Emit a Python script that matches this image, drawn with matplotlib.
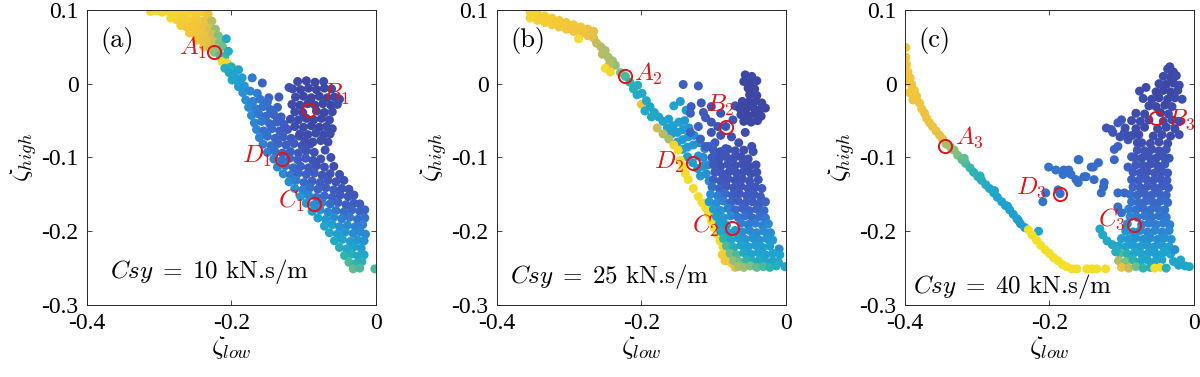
import matplotlib
matplotlib.use("Agg")
import matplotlib.pyplot as plt
from matplotlib.colors import LinearSegmentedColormap

plt.rcParams["mathtext.fontset"] = "cm"
plt.rcParams["font.family"] = "Liberation Serif"

# parula-like colour ramp, slightly muted to match the printed figure
parula = LinearSegmentedColormap.from_list(
    "parula", ["#3c3c96", "#3f5bc0", "#2f80d4", "#1ea2d0", "#2bb5b0",
               "#80c080", "#c8bc5c", "#f4c53a", "#f2ea22"])

# ---- data: (zeta_low, zeta_high, colour value) ----
# panel (a), Csy = 10
a_upper = [
    (-0.312, 0.098, .95), (-0.304, 0.099, .95), (-0.296, 0.097, .94), (-0.288, 0.099, .94),
    (-0.280, 0.096, .93), (-0.272, 0.098, .93), (-0.264, 0.095, .92), (-0.256, 0.098, .92),
    (-0.248, 0.095, .90), (-0.240, 0.097, .90), (-0.232, 0.094, .86),
    (-0.284, 0.089, .93), (-0.276, 0.087, .92), (-0.268, 0.088, .91), (-0.260, 0.086, .90),
    (-0.252, 0.087, .89), (-0.244, 0.085, .88), (-0.236, 0.086, .84), (-0.227, 0.085, .72),
    (-0.270, 0.079, .90), (-0.262, 0.077, .89), (-0.254, 0.078, .88), (-0.246, 0.076, .87),
    (-0.238, 0.077, .85), (-0.230, 0.075, .80), (-0.222, 0.074, .66),
    (-0.258, 0.069, .88), (-0.250, 0.067, .87), (-0.242, 0.068, .86), (-0.234, 0.066, .84),
    (-0.226, 0.067, .78), (-0.218, 0.065, .62),
    (-0.248, 0.059, .86), (-0.240, 0.058, .85), (-0.232, 0.059, .83), (-0.224, 0.057, .78),
    (-0.216, 0.056, .62), (-0.207, 0.061, .42),
    (-0.238, 0.050, .84), (-0.230, 0.049, .80), (-0.219, 0.048, .72), (-0.212, 0.050, .60),
    (-0.224, 0.043, .66), (-0.216, 0.039, .58), (-0.209, 0.037, .52), (-0.204, 0.044, .45),
    (-0.213, 0.030, .95), (-0.206, 0.028, .93), (-0.200, 0.023, .48), (-0.209, 0.021, .45),
    (-0.203, 0.015, .40), (-0.196, 0.013, .38), (-0.190, 0.019, .38), (-0.199, 0.005, .40),
    (-0.192, 0.004, .38), (-0.185, 0.008, .35), (-0.190, -0.004, .36), (-0.182, -0.003, .33),
]
a_band = [
    (-0.171, 0.008, .22), (-0.157, 0.001, .15), (-0.148, -0.019, .15), (-0.134, -0.018, .12),
    (-0.120, -0.005, .10),
    (-0.184, -0.012, .32), (-0.174, -0.010, .28), (-0.164, -0.013, .25),
    (-0.180, -0.022, .30), (-0.170, -0.024, .25), (-0.160, -0.021, .22), (-0.150, -0.025, .20),
    (-0.176, -0.032, .30), (-0.166, -0.034, .24), (-0.156, -0.031, .20), (-0.146, -0.035, .18),
    (-0.136, -0.032, .15),
    (-0.172, -0.043, .28), (-0.162, -0.041, .22), (-0.152, -0.044, .18), (-0.141, -0.042, .16),
    (-0.131, -0.045, .14),
    (-0.168, -0.053, .28), (-0.158, -0.051, .22), (-0.147, -0.054, .18), (-0.137, -0.052, .15),
    (-0.127, -0.055, .13),
    (-0.165, -0.062, .27), (-0.155, -0.064, .20), (-0.144, -0.061, .17), (-0.133, -0.064, .14),
    (-0.122, -0.062, .12),
    (-0.161, -0.073, .26), (-0.150, -0.071, .20), (-0.139, -0.074, .16), (-0.128, -0.072, .14),
    (-0.117, -0.074, .12), (-0.106, -0.071, .10),
    (-0.156, -0.082, .25), (-0.145, -0.084, .20), (-0.135, -0.081, .16), (-0.124, -0.083, .14),
    (-0.113, -0.081, .12), (-0.102, -0.084, .10), (-0.091, -0.082, .09),
    (-0.150, -0.093, .25), (-0.140, -0.091, .20), (-0.129, -0.094, .16), (-0.118, -0.092, .14),
    (-0.107, -0.094, .12), (-0.096, -0.091, .10), (-0.085, -0.093, .09), (-0.070, -0.090, .08),
    (-0.141, -0.102, .26), (-0.130, -0.104, .20), (-0.119, -0.101, .16), (-0.108, -0.103, .14),
    (-0.097, -0.101, .12), (-0.087, -0.104, .10), (-0.076, -0.102, .09), (-0.062, -0.100, .08),
    (-0.136, -0.113, .28), (-0.125, -0.111, .22), (-0.114, -0.114, .17), (-0.104, -0.112, .14),
    (-0.093, -0.114, .12), (-0.082, -0.111, .10), (-0.071, -0.113, .09), (-0.058, -0.112, .08),
    (-0.128, -0.122, .28), (-0.118, -0.124, .22), (-0.107, -0.121, .17), (-0.096, -0.123, .15),
    (-0.085, -0.121, .13), (-0.074, -0.124, .11), (-0.063, -0.122, .10), (-0.050, -0.123, .09),
    (-0.120, -0.133, .30), (-0.110, -0.131, .24), (-0.099, -0.134, .18), (-0.088, -0.132, .15),
    (-0.077, -0.134, .13), (-0.066, -0.131, .11), (-0.055, -0.133, .10), (-0.044, -0.131, .09),
    (-0.112, -0.142, .32), (-0.101, -0.144, .25), (-0.091, -0.141, .20), (-0.080, -0.143, .16),
    (-0.069, -0.141, .13), (-0.058, -0.144, .12), (-0.047, -0.142, .10), (-0.037, -0.143, .10),
    (-0.104, -0.153, .34), (-0.093, -0.151, .27), (-0.082, -0.154, .21), (-0.071, -0.152, .17),
    (-0.060, -0.154, .14), (-0.049, -0.151, .12), (-0.038, -0.153, .11), (-0.030, -0.151, .11),
    (-0.096, -0.162, .35), (-0.085, -0.164, .30), (-0.074, -0.161, .24), (-0.063, -0.163, .19),
    (-0.052, -0.161, .16), (-0.041, -0.164, .14), (-0.030, -0.162, .13), (-0.022, -0.163, .13),
    (-0.088, -0.173, .36), (-0.077, -0.171, .32), (-0.066, -0.174, .27), (-0.055, -0.172, .22),
    (-0.044, -0.174, .19), (-0.033, -0.171, .17), (-0.022, -0.173, .16), (-0.015, -0.171, .16),
    (-0.080, -0.182, .37), (-0.069, -0.184, .34), (-0.058, -0.181, .30), (-0.047, -0.183, .25),
    (-0.036, -0.181, .22), (-0.025, -0.184, .20), (-0.015, -0.182, .20),
    (-0.071, -0.193, .38), (-0.060, -0.191, .36), (-0.050, -0.194, .32), (-0.039, -0.192, .28),
    (-0.028, -0.194, .25), (-0.018, -0.191, .24),
    (-0.064, -0.202, .40), (-0.053, -0.204, .37), (-0.042, -0.201, .34), (-0.031, -0.203, .30),
    (-0.021, -0.201, .28), (-0.014, -0.204, .28),
    (-0.057, -0.213, .42), (-0.046, -0.211, .39), (-0.035, -0.214, .36), (-0.025, -0.212, .33),
    (-0.016, -0.213, .32),
    (-0.050, -0.222, .45), (-0.040, -0.224, .42), (-0.030, -0.221, .38), (-0.020, -0.223, .36),
    (-0.043, -0.233, .50), (-0.033, -0.231, .46), (-0.024, -0.234, .42), (-0.016, -0.232, .40),
    (-0.037, -0.242, .55), (-0.028, -0.244, .50), (-0.019, -0.241, .45),
    (-0.031, -0.251, .58), (-0.022, -0.250, .55), (-0.001, -0.251, .55),
]
a_cluster = [
    (-0.108, 0.003, .06), (-0.096, 0.004, .05), (-0.084, 0.002, .05), (-0.072, 0.003, .06),
    (-0.115, -0.007, .07), (-0.104, -0.008, .05), (-0.093, -0.006, .05), (-0.082, -0.008, .04),
    (-0.071, -0.006, .05), (-0.061, -0.007, .06),
    (-0.111, -0.018, .06), (-0.100, -0.017, .05), (-0.089, -0.019, .04), (-0.078, -0.017, .04),
    (-0.067, -0.019, .05), (-0.057, -0.018, .05), (-0.050, -0.021, .06),
    (-0.116, -0.028, .07), (-0.105, -0.029, .05), (-0.094, -0.027, .04), (-0.084, -0.029, .04),
    (-0.073, -0.027, .05), (-0.062, -0.029, .05), (-0.053, -0.028, .06),
    (-0.112, -0.038, .06), (-0.101, -0.039, .05), (-0.082, -0.037, .05), (-0.071, -0.039, .05),
    (-0.060, -0.038, .06),
    (-0.118, -0.048, .07), (-0.107, -0.049, .06), (-0.096, -0.047, .05), (-0.086, -0.049, .05),
    (-0.075, -0.047, .05), (-0.064, -0.049, .06),
    (-0.112, -0.058, .07), (-0.100, -0.059, .06), (-0.089, -0.057, .05), (-0.078, -0.059, .05),
    (-0.068, -0.058, .06), (-0.060, -0.061, .06),
    (-0.105, -0.068, .07), (-0.094, -0.069, .06), (-0.083, -0.067, .06), (-0.072, -0.069, .06),
    (-0.063, -0.068, .07),
    (-0.098, -0.078, .08), (-0.087, -0.079, .07), (-0.076, -0.077, .07), (-0.066, -0.079, .07),
]

# panel (b), Csy = 25
b_upper = [
    (-0.354, 0.097, .93), (-0.354, 0.089, .92), (-0.349, 0.093, .92), (-0.344, 0.095, .92),
    (-0.344, 0.086, .91), (-0.339, 0.090, .91), (-0.334, 0.092, .91), (-0.334, 0.083, .90),
    (-0.329, 0.087, .90), (-0.324, 0.089, .90), (-0.324, 0.080, .90), (-0.319, 0.084, .89),
    (-0.314, 0.086, .89), (-0.314, 0.077, .89), (-0.309, 0.081, .89), (-0.304, 0.083, .88),
    (-0.304, 0.074, .88), (-0.299, 0.077, .88), (-0.294, 0.080, .88), (-0.294, 0.071, .87),
    (-0.289, 0.074, .87), (-0.284, 0.077, .87), (-0.284, 0.068, .86), (-0.287, 0.061, .95),
    (-0.279, 0.071, .86), (-0.274, 0.074, .86), (-0.274, 0.065, .85), (-0.270, 0.068, .84),
    (-0.266, 0.071, .83), (-0.266, 0.062, .82),
    (-0.262, 0.055, .75), (-0.256, 0.050, .72), (-0.250, 0.045, .70), (-0.254, 0.040, .72),
    (-0.246, 0.036, .70), (-0.240, 0.031, .68), (-0.236, 0.025, .66), (-0.244, 0.027, .72),
    (-0.250, 0.021, .95), (-0.243, 0.016, .93), (-0.229, 0.015, .62), (-0.222, 0.010, .55),
]
b_line = [
    (-0.216, 0.002, .50), (-0.211, -0.007, .46), (-0.205, -0.002, .46), (-0.206, -0.015, .44),
    (-0.199, -0.013, .42), (-0.200, -0.028, .85), (-0.193, -0.023, .42), (-0.188, -0.031, .40),
    (-0.195, -0.037, .42), (-0.182, -0.039, .40), (-0.176, -0.045, .40), (-0.186, -0.045, .42),
    (-0.170, -0.051, .38), (-0.162, -0.048, .38), (-0.155, -0.030, .38), (-0.146, -0.024, .36),
    (-0.138, -0.036, .34), (-0.164, -0.060, .38), (-0.156, -0.057, .37), (-0.148, -0.052, .36),
    (-0.140, -0.050, .34), (-0.158, -0.068, .37), (-0.150, -0.066, .36), (-0.142, -0.062, .35),
    (-0.134, -0.060, .33), (-0.150, -0.079, .36), (-0.143, -0.076, .35), (-0.135, -0.072, .34),
    (-0.127, -0.070, .30), (-0.143, -0.089, .36), (-0.136, -0.086, .35), (-0.128, -0.083, .33),
    (-0.120, -0.080, .30), (-0.112, -0.088, .28), (-0.136, -0.099, .36), (-0.129, -0.107, .35),
    (-0.121, -0.098, .33), (-0.114, -0.100, .30), (-0.122, -0.115, .34), (-0.115, -0.112, .32),
    (-0.108, -0.110, .30), (-0.118, -0.125, .33), (-0.110, -0.122, .32), (-0.106, -0.132, .30),
    (-0.178, -0.060, .75), (-0.170, -0.068, .72), (-0.162, -0.075, .70), (-0.155, -0.083, .92),
    (-0.149, -0.090, .95), (-0.146, -0.104, .95), (-0.142, -0.113, .96), (-0.139, -0.122, .96),
    (-0.135, -0.130, .96), (-0.128, -0.142, .95), (-0.121, -0.153, .95), (-0.116, -0.161, .95),
    (-0.111, -0.168, .95), (-0.107, -0.176, .95), (-0.103, -0.186, .95), (-0.099, -0.195, .95),
    (-0.095, -0.204, .95), (-0.091, -0.213, .95), (-0.087, -0.221, .94), (-0.083, -0.229, .92),
    (-0.079, -0.236, .90), (-0.075, -0.243, .88), (-0.070, -0.249, .85), (-0.088, -0.232, .90),
    (-0.084, -0.240, .88),
]
b_blue = [
    (-0.142, -0.001, .14), (-0.121, -0.003, .12), (-0.131, -0.031, .13), (-0.117, -0.026, .12),
    (-0.103, -0.031, .10), (-0.114, -0.039, .12), (-0.132, -0.040, .14), (-0.111, -0.046, .12),
    (-0.103, -0.052, .10), (-0.121, -0.058, .14), (-0.094, -0.058, .10), (-0.083, -0.058, .10),
    (-0.103, -0.066, .10), (-0.090, -0.070, .10), (-0.075, -0.072, .09), (-0.056, -0.066, .08),
    (-0.065, -0.080, .08), (-0.047, -0.085, .08), (-0.083, -0.088, .10), (-0.111, -0.085, .14),
    (-0.098, -0.080, .12), (-0.073, -0.049, .10), (-0.090, -0.040, .10), (-0.070, -0.030, .09),
    (-0.132, -0.066, .15), (-0.118, -0.075, .15), (-0.106, -0.085, .14), (-0.097, -0.095, .13),
]
b_cluster = [
    (-0.056, 0.012, .05), (-0.047, 0.010, .05), (-0.058, 0.003, .05), (-0.049, 0.002, .04),
    (-0.040, 0.004, .05), (-0.052, -0.006, .04), (-0.043, -0.007, .04), (-0.050, -0.015, .04),
    (-0.040, -0.016, .05), (-0.060, -0.024, .05), (-0.051, -0.025, .04), (-0.041, -0.023, .04),
    (-0.033, -0.026, .05), (-0.064, -0.033, .05), (-0.055, -0.034, .04), (-0.045, -0.032, .04),
    (-0.036, -0.035, .04), (-0.028, -0.033, .05), (-0.062, -0.042, .05), (-0.052, -0.043, .04),
    (-0.043, -0.041, .04), (-0.034, -0.044, .05), (-0.058, -0.051, .05), (-0.048, -0.052, .05),
    (-0.039, -0.050, .05),
]
b_lower = [
    (-0.100, -0.090, .12), (-0.090, -0.092, .10), (-0.080, -0.089, .10), (-0.070, -0.091, .09),
    (-0.058, -0.090, .08), (-0.045, -0.092, .08),
    (-0.102, -0.100, .12), (-0.092, -0.102, .10), (-0.082, -0.099, .10), (-0.072, -0.101, .09),
    (-0.062, -0.099, .08), (-0.052, -0.102, .08),
    (-0.100, -0.110, .12), (-0.090, -0.112, .10), (-0.080, -0.109, .10), (-0.070, -0.111, .09),
    (-0.060, -0.109, .09), (-0.050, -0.112, .08), (-0.041, -0.110, .08),
    (-0.098, -0.120, .12), (-0.088, -0.122, .11), (-0.078, -0.119, .10), (-0.068, -0.121, .10),
    (-0.058, -0.119, .09), (-0.048, -0.122, .09), (-0.040, -0.120, .09),
    (-0.100, -0.130, .14), (-0.090, -0.132, .12), (-0.080, -0.129, .11), (-0.070, -0.131, .10),
    (-0.060, -0.129, .10), (-0.050, -0.132, .10), (-0.038, -0.130, .10),
    (-0.102, -0.140, .20), (-0.092, -0.142, .15), (-0.082, -0.139, .12), (-0.072, -0.141, .11),
    (-0.062, -0.139, .11), (-0.052, -0.142, .11), (-0.042, -0.140, .10), (-0.033, -0.142, .12),
    (-0.104, -0.150, .30), (-0.094, -0.152, .25), (-0.084, -0.149, .18), (-0.074, -0.151, .13),
    (-0.064, -0.149, .12), (-0.054, -0.152, .12), (-0.044, -0.150, .12), (-0.035, -0.153, .13),
    (-0.106, -0.160, .34), (-0.096, -0.162, .30), (-0.086, -0.159, .24), (-0.076, -0.161, .16),
    (-0.066, -0.159, .14), (-0.056, -0.162, .13), (-0.046, -0.160, .13), (-0.036, -0.162, .14),
    (-0.028, -0.160, .15),
    (-0.100, -0.170, .35), (-0.090, -0.172, .32), (-0.080, -0.169, .26), (-0.070, -0.171, .18),
    (-0.060, -0.169, .16), (-0.050, -0.172, .15), (-0.040, -0.170, .15), (-0.030, -0.172, .17),
    (-0.096, -0.180, .36), (-0.086, -0.182, .34), (-0.076, -0.179, .30), (-0.066, -0.181, .22),
    (-0.056, -0.179, .20), (-0.046, -0.182, .18), (-0.036, -0.180, .20), (-0.028, -0.182, .22),
    (-0.092, -0.190, .37), (-0.082, -0.192, .35), (-0.062, -0.189, .26), (-0.052, -0.191, .24),
    (-0.042, -0.189, .24), (-0.032, -0.192, .26), (-0.024, -0.190, .28),
    (-0.090, -0.200, .40), (-0.080, -0.202, .37), (-0.070, -0.199, .34), (-0.060, -0.201, .30),
    (-0.050, -0.199, .28), (-0.040, -0.202, .28), (-0.030, -0.200, .30), (-0.021, -0.202, .30),
    (-0.086, -0.210, .50), (-0.076, -0.212, .40), (-0.066, -0.209, .36), (-0.056, -0.211, .33),
    (-0.046, -0.209, .32), (-0.036, -0.212, .32), (-0.026, -0.210, .33), (-0.018, -0.212, .34),
    (-0.082, -0.220, .55), (-0.072, -0.222, .45), (-0.062, -0.219, .38), (-0.052, -0.221, .36),
    (-0.042, -0.219, .35), (-0.032, -0.222, .35), (-0.022, -0.220, .36), (-0.009, -0.224, .30),
    (-0.077, -0.230, .60), (-0.068, -0.232, .55), (-0.058, -0.229, .42), (-0.048, -0.231, .38),
    (-0.038, -0.229, .38), (-0.028, -0.232, .38), (-0.018, -0.230, .38), (-0.008, -0.232, .38),
    (-0.072, -0.240, .65), (-0.063, -0.242, .60), (-0.054, -0.239, .50), (-0.045, -0.241, .45),
    (-0.036, -0.239, .42), (-0.027, -0.242, .40), (-0.018, -0.240, .40), (-0.010, -0.242, .40),
    (-0.066, -0.248, .70), (-0.058, -0.249, .68), (-0.049, -0.247, .62), (-0.040, -0.249, .58),
    (-0.031, -0.248, .55), (-0.022, -0.249, .50), (-0.013, -0.247, .45), (-0.001, -0.248, .40),
]

# panel (c), Csy = 40
c_line = [
    (-0.399, 0.049, .86), (-0.399, 0.036, .87), (-0.398, 0.026, .87), (-0.396, 0.016, .87),
    (-0.393, 0.008, .87), (-0.398, 0.003, .87), (-0.391, -0.001, .87), (-0.387, -0.009, .86),
    (-0.394, -0.012, .87), (-0.384, -0.017, .86), (-0.389, -0.022, .86), (-0.380, -0.026, .86),
    (-0.377, -0.034, .86), (-0.373, -0.040, .85), (-0.370, -0.047, .85), (-0.366, -0.053, .85),
    (-0.362, -0.058, .84), (-0.357, -0.064, .84), (-0.352, -0.070, .83), (-0.348, -0.075, .82),
    (-0.343, -0.082, .70), (-0.337, -0.086, .68), (-0.332, -0.090, .65), (-0.327, -0.097, .62),
    (-0.321, -0.103, .58), (-0.316, -0.108, .55), (-0.310, -0.114, .52), (-0.305, -0.120, .50),
    (-0.299, -0.126, .47), (-0.294, -0.131, .45), (-0.288, -0.137, .43), (-0.283, -0.142, .42),
    (-0.277, -0.148, .40), (-0.272, -0.154, .39), (-0.266, -0.160, .38), (-0.261, -0.165, .37),
    (-0.255, -0.171, .37), (-0.250, -0.177, .36), (-0.245, -0.183, .36), (-0.240, -0.190, .36),
    (-0.234, -0.195, .36), (-0.318, -0.101, .58), (-0.296, -0.125, .47), (-0.276, -0.145, .41),
    (-0.258, -0.166, .37), (-0.243, -0.185, .36), (-0.215, -0.200, .38),
    (-0.229, -0.198, .96), (-0.224, -0.205, .96), (-0.218, -0.212, .96), (-0.212, -0.219, .96),
    (-0.206, -0.225, .96), (-0.200, -0.230, .96), (-0.194, -0.236, .96), (-0.188, -0.240, .96),
    (-0.182, -0.245, .96), (-0.176, -0.248, .96), (-0.169, -0.251, .96), (-0.162, -0.251, .96),
    (-0.148, -0.251, .96), (-0.141, -0.251, .96), (-0.134, -0.251, .96), (-0.122, -0.251, .96),
]
c_mid = [
    (-0.188, -0.144, .20), (-0.180, -0.117, .20), (-0.170, -0.123, .20), (-0.160, -0.134, .19),
    (-0.160, -0.103, .19), (-0.152, -0.126, .19), (-0.142, -0.113, .18), (-0.132, -0.107, .18),
    (-0.138, -0.130, .18), (-0.124, -0.134, .18), (-0.128, -0.148, .19), (-0.110, -0.089, .16),
    (-0.110, -0.103, .16), (-0.105, -0.085, .15), (-0.114, -0.062, .12), (-0.105, -0.053, .12),
    (-0.100, -0.049, .11), (-0.096, -0.066, .12), (-0.091, -0.076, .12), (-0.086, -0.099, .14),
    (-0.091, -0.113, .15), (-0.105, -0.148, .18), (-0.096, -0.148, .18), (-0.105, -0.167, .20),
    (-0.100, -0.175, .20), (-0.201, -0.113, .21), (-0.191, -0.117, .21), (-0.181, -0.123, .20),
    (-0.173, -0.117, .20), (-0.209, -0.160, .21), (-0.205, -0.148, .21), (-0.159, -0.103, .19),
    (-0.163, -0.130, .19), (-0.149, -0.126, .19), (-0.139, -0.113, .18), (-0.125, -0.140, .18),
    (-0.185, -0.149, .20),
]
c_cluster = [
    (-0.033, 0.023, .06), (-0.036, 0.020, .06), (-0.028, 0.016, .06),
    (-0.042, 0.010, .06), (-0.032, 0.009, .05), (-0.024, 0.011, .06),
    (-0.048, 0.000, .06), (-0.038, -0.001, .05), (-0.028, 0.001, .05), (-0.020, -0.002, .06),
    (-0.075, -0.010, .07), (-0.066, -0.005, .07), (-0.052, -0.011, .05), (-0.042, -0.009, .05),
    (-0.032, -0.011, .05), (-0.022, -0.009, .06),
    (-0.070, -0.020, .07), (-0.058, -0.021, .06), (-0.048, -0.019, .05), (-0.036, -0.021, .05),
    (-0.026, -0.019, .06), (-0.016, -0.021, .07),
    (-0.062, -0.030, .06), (-0.052, -0.031, .05), (-0.040, -0.029, .05), (-0.030, -0.031, .06),
    (-0.080, -0.040, .07), (-0.068, -0.041, .06), (-0.046, -0.039, .05), (-0.035, -0.041, .06),
    (-0.086, -0.050, .07), (-0.074, -0.051, .06), (-0.062, -0.049, .06), (-0.042, -0.051, .06),
    (-0.030, -0.049, .06), (-0.020, -0.051, .07),
    (-0.095, -0.060, .08), (-0.080, -0.061, .07), (-0.068, -0.059, .06), (-0.050, -0.061, .06),
    (-0.038, -0.059, .06), (-0.026, -0.061, .07),
    (-0.121, -0.060, .10), (-0.112, -0.066, .10), (-0.102, -0.072, .09), (-0.085, -0.070, .08),
    (-0.078, -0.080, .08), (-0.090, -0.071, .08), (-0.076, -0.069, .07), (-0.056, -0.071, .07),
    (-0.044, -0.069, .07), (-0.032, -0.071, .07), (-0.020, -0.069, .08),
    (-0.072, -0.080, .08), (-0.060, -0.081, .08), (-0.048, -0.079, .08), (-0.036, -0.081, .08),
]
c_column = [
    (-0.078, -0.090, .10), (-0.068, -0.091, .10), (-0.058, -0.089, .09), (-0.048, -0.091, .09),
    (-0.038, -0.089, .10),
    (-0.082, -0.100, .11), (-0.072, -0.101, .10), (-0.062, -0.099, .10), (-0.052, -0.101, .09),
    (-0.042, -0.099, .10), (-0.034, -0.101, .10),
    (-0.080, -0.110, .12), (-0.070, -0.111, .11), (-0.060, -0.109, .10), (-0.050, -0.111, .10),
    (-0.040, -0.109, .11),
    (-0.084, -0.120, .13), (-0.074, -0.121, .12), (-0.064, -0.119, .11), (-0.054, -0.121, .11),
    (-0.044, -0.119, .11), (-0.036, -0.121, .12),
    (-0.086, -0.130, .14), (-0.076, -0.131, .13), (-0.066, -0.129, .12), (-0.056, -0.131, .12),
    (-0.046, -0.129, .12), (-0.037, -0.131, .13),
    (-0.084, -0.140, .16), (-0.074, -0.141, .14), (-0.064, -0.139, .13), (-0.054, -0.141, .13),
    (-0.044, -0.139, .13), (-0.035, -0.141, .14),
    (-0.088, -0.150, .19), (-0.078, -0.151, .17), (-0.068, -0.149, .15), (-0.058, -0.151, .15),
    (-0.048, -0.149, .15), (-0.038, -0.151, .16),
    (-0.086, -0.160, .21), (-0.076, -0.161, .19), (-0.066, -0.159, .17), (-0.056, -0.161, .17),
    (-0.046, -0.159, .17), (-0.036, -0.161, .18),
    (-0.090, -0.170, .24), (-0.080, -0.171, .21), (-0.070, -0.169, .19), (-0.060, -0.171, .19),
    (-0.050, -0.169, .19), (-0.040, -0.171, .20),
    (-0.088, -0.180, .27), (-0.078, -0.181, .24), (-0.068, -0.179, .22), (-0.058, -0.181, .21),
    (-0.048, -0.179, .21), (-0.038, -0.181, .22),
    (-0.092, -0.190, .30), (-0.072, -0.191, .25), (-0.062, -0.189, .24), (-0.052, -0.191, .24),
    (-0.042, -0.189, .24), (-0.033, -0.191, .25),
    (-0.094, -0.200, .33), (-0.084, -0.201, .30), (-0.074, -0.199, .28), (-0.064, -0.201, .27),
    (-0.054, -0.199, .27), (-0.044, -0.201, .27), (-0.034, -0.199, .28),
    (-0.100, -0.210, .36), (-0.090, -0.211, .34), (-0.080, -0.209, .32), (-0.070, -0.211, .31),
    (-0.060, -0.209, .30), (-0.050, -0.211, .30), (-0.040, -0.209, .31), (-0.031, -0.211, .32),
    (-0.104, -0.220, .40), (-0.094, -0.221, .38), (-0.084, -0.219, .36), (-0.074, -0.221, .35),
    (-0.064, -0.219, .34), (-0.054, -0.221, .34), (-0.044, -0.219, .35), (-0.034, -0.221, .36),
    (-0.102, -0.230, .55), (-0.092, -0.231, .48), (-0.082, -0.229, .40), (-0.072, -0.231, .38),
    (-0.062, -0.229, .37), (-0.052, -0.231, .37), (-0.042, -0.229, .38), (-0.032, -0.231, .38),
    (-0.104, -0.240, .70), (-0.094, -0.241, .62), (-0.084, -0.239, .50), (-0.074, -0.241, .42),
    (-0.064, -0.239, .40), (-0.054, -0.241, .40), (-0.044, -0.239, .40), (-0.028, -0.241, .40),
    (-0.018, -0.239, .40),
    (-0.100, -0.249, .85), (-0.090, -0.250, .75), (-0.080, -0.248, .60), (-0.070, -0.250, .50),
    (-0.060, -0.249, .45), (-0.054, -0.250, .95), (-0.046, -0.249, .95), (-0.038, -0.250, .45),
    (-0.012, -0.247, .38), (-0.006, -0.248, .40),
    (-0.126, -0.205, .42), (-0.120, -0.213, .42), (-0.113, -0.218, .42), (-0.108, -0.228, .45),
    (-0.130, -0.197, .40), (-0.026, -0.225, .30), (-0.021, -0.246, .38),
]

# marked states (label, zeta_low, zeta_high)
a_marks = [("A_1", -0.224, 0.043), ("B_1", -0.092, -0.035), ("C_1", -0.086, -0.163), ("D_1", -0.130, -0.102)]
b_marks = [("A_2", -0.222, 0.010), ("B_2", -0.083, -0.058), ("C_2", -0.074, -0.195), ("D_2", -0.129, -0.107)]
c_marks = [("A_3", -0.344, -0.084), ("B_3", -0.052, -0.047), ("C_3", -0.082, -0.191), ("D_3", -0.185, -0.149)]

panel_tags = ["(a)", "(b)", "(c)"]
csy_values = [10, 25, 40]
x_ticks = [-0.4, -0.2, 0]
x_ticklabels = ["-0.4", "-0.2", "0"]
y_ticks = [-0.3, -0.2, -0.1, 0, 0.1]
y_ticklabels = ["-0.3", "-0.2", "-0.1", "0", "0.1"]

panels = [
    (a_upper + a_band + a_cluster, a_marks),
    (b_upper + b_line + b_blue + b_cluster + b_lower, b_marks),
    (c_line + c_mid + c_cluster + c_column, c_marks),
]

# label offsets (points) for A, B, C, D in each panel
label_offsets = [
    {"A": (-5, 3, "right"), "B": (9, 11, "left"), "C": (-6, 2, "right"), "D": (-7, 2, "right")},
    {"A": (6, 2, "left"), "B": (-4, 15, "center"), "C": (-9, 1, "right"), "D": (-6, 0, "right")},
    {"A": (7, 6, "left"), "B": (8, -1, "left"), "C": (-6, 4, "right"), "D": (-10, 4, "right")},
]
csy_pos = [(0.079, 0.112), (0.045, 0.098), (0.028, 0.061)]
ax_left = [0.0725, 0.4142, 0.7542]

fig = plt.figure(figsize=(12, 3.77), dpi=100)

for i, (pts, marks) in enumerate(panels):
    ax = fig.add_axes([ax_left[i], 0.191, 0.2405, 0.7825])
    zl = [p[0] for p in pts]
    zh = [p[1] for p in pts]
    cv = [p[2] for p in pts]
    ax.scatter(zl, zh, c=cv, cmap=parula, vmin=0, vmax=1, s=42, linewidths=0)

    # red circles + labels for the marked states
    for name, mx, my in marks:
        ax.plot(mx, my, "o", ms=9.5, mfc="none", mec="#e0141c", mew=1.4)
        dx, dy, ha = label_offsets[i][name[0]]
        ax.annotate(r"$%s$" % name, (mx, my), xytext=(dx, dy), textcoords="offset points",
                    ha=ha, va="center", color="#e0141c", fontsize=18)

    ax.text(0.045, 0.895, panel_tags[i], transform=ax.transAxes,
            fontsize=19, va="center", ha="left", fontfamily="cmr10")
    ax.text(csy_pos[i][0], csy_pos[i][1], r"$Csy\;=\;%d$ kN.s/m" % csy_values[i],
            transform=ax.transAxes, fontsize=18, va="center", ha="left", fontfamily="cmr10")

    ax.set_xlim(-0.4, 0)
    ax.set_ylim(-0.3, 0.1)
    ax.set_xticks(x_ticks)
    ax.set_xticklabels(x_ticklabels)
    ax.set_yticks(y_ticks)
    ax.set_yticklabels(y_ticklabels)
    ax.tick_params(direction="in", length=3.5, width=0.6, top=True, right=True,
                   labelsize=17, pad=6, colors="#262626", labelcolor="black")
    for sp in ax.spines.values():
        sp.set_linewidth(0.7)
        sp.set_color("#262626")
    ax.set_xlabel(r"$\zeta_{low}$", fontsize=19, labelpad=0)
    ax.set_ylabel(r"$\zeta_{high}$", fontsize=19, labelpad=2)

fig.savefig("out.png", dpi=100)
